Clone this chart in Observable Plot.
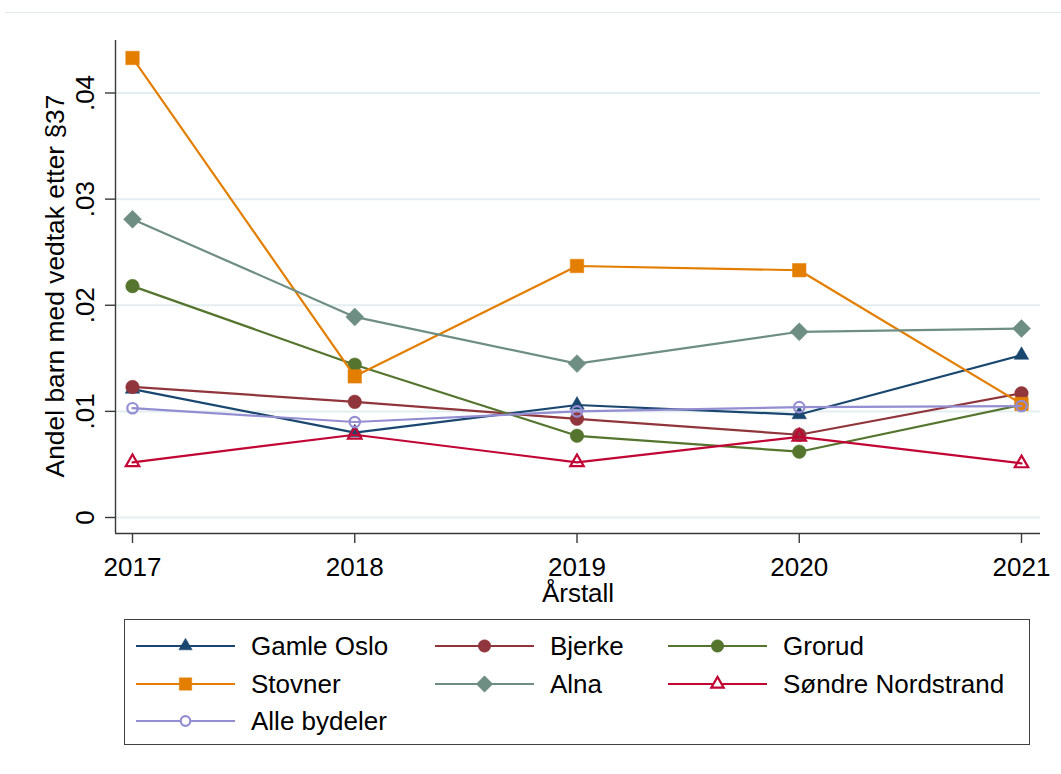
<!DOCTYPE html>
<html><head><meta charset="utf-8">
<script src="https://cdn.jsdelivr.net/npm/d3@7"></script>
<script src="https://cdn.jsdelivr.net/npm/@observablehq/plot@0.6"></script>
<style>
body{margin:0;background:#fff;font-family:"Liberation Sans",Arial,sans-serif;}
#wrap{position:relative;width:1061px;height:774px;overflow:hidden;}
#topline{position:absolute;left:5px;top:12px;width:1056px;height:0;border-top:1px solid #dfe8e8;}
#chart{position:absolute;left:0;top:0;}
#legend{position:absolute;left:124px;top:619px;width:906px;height:126px;border:1px solid #404040;box-sizing:border-box;}
.item{position:absolute;height:36px;display:flex;align-items:center;font-size:26px;color:#000;white-space:nowrap;}
.item svg{margin-right:15px;display:block;}
</style></head><body>
<div id="wrap"><div id="topline"></div><div id="chart"></div><div id="legend"></div></div>
<script>
// ---- data ----
const years = [2017, 2018, 2019, 2020, 2021];
const seriesNames = ["Gamle Oslo", "Bjerke", "Grorud", "Stovner", "Alna", "Søndre Nordstrand", "Alle bydeler"];
const gamleOslo = [0.0121, 0.0080, 0.0106, 0.0097, 0.0153];
const bjerke    = [0.0123, 0.0109, 0.0093, 0.0078, 0.0117];
const grorud    = [0.0218, 0.0144, 0.0077, 0.0062, 0.0106];
const stovner   = [0.0433, 0.0133, 0.0237, 0.0233, 0.0107];
const alna      = [0.0281, 0.0189, 0.0145, 0.0175, 0.0178];
const sondreNordstrand = [0.0052, 0.0078, 0.0052, 0.0076, 0.0051];
const alleBydeler = [0.0103, 0.0090, 0.0100, 0.0104, 0.0105];
const seriesValues = [gamleOslo, bjerke, grorud, stovner, alna, sondreNordstrand, alleBydeler];
const yTicks = [0, 0.01, 0.02, 0.03, 0.04];
const yTitle = "Andel barn med vedtak etter §37";
const xTitle = "Årstall";

// ---- styles ----
const colors = ["#1a476f", "#90353b", "#55752f", "#e37e00", "#6e8e84", "#c10534", "#938dd2"];
const symbols = ["triangle", "circle", "circle", "square", "diamond2", "triangle", "circle"];
const radii = [5.4, 6.8, 6.8, 7.6, 8.1, 5.0, 5.2];
const hollow = [false, false, false, false, false, true, true];

const table = [];
seriesNames.forEach((name, i) => {
  years.forEach((yr, j) => table.push({series: name, year: yr, value: seriesValues[i][j]}));
});

const fmtY = d => d === 0 ? "0" : d3.format(".2f")(d).replace(/^0/, "");

const seriesMarks = seriesNames.flatMap((name, i) => {
  const rows = table.filter(d => d.series === name);
  return [
    Plot.line(rows, {x: "year", y: "value", stroke: colors[i], strokeWidth: 2.2}),
    Plot.dot(rows, {
      x: "year", y: "value", symbol: () => symbols[i], r: radii[i],
      fill: hollow[i] ? "none" : colors[i],
      stroke: colors[i], strokeWidth: hollow[i] ? 2.2 : 0.5
    })
  ];
});

const chart = Plot.plot({
  width: 1061,
  height: 615,
  marginLeft: 115,
  marginRight: 21,
  marginTop: 40,
  marginBottom: 82,
  style: {fontSize: "26px", fontFamily: "'Liberation Sans', Arial, sans-serif", color: "#000", background: "transparent"},
  x: {type: "linear", domain: [2017, 2021], insetLeft: 17, insetRight: 19},
  y: {domain: [0, 0.04], insetTop: 52.5, insetBottom: 16},
  symbol: {type: "identity"},
  marks: [
    Plot.gridY(yTicks, {stroke: "#e4eef0", strokeOpacity: 1, strokeWidth: 2}),
    Plot.ruleX([2017], {dx: -17, stroke: "#3a3a3a", strokeWidth: 1.4}),
    Plot.ruleY([0], {dy: 16, stroke: "#3a3a3a", strokeWidth: 1.4}),
    Plot.axisX({ticks: years, tickSize: 10, tickPadding: 14, tickFormat: d => String(d), label: null, stroke: "#3a3a3a", strokeWidth: 1.4}),
    Plot.axisY({ticks: yTicks, tickSize: 10, tickPadding: 12, tickRotate: -90, tickFormat: fmtY, label: null, stroke: "#3a3a3a", strokeWidth: 1.4}),
    Plot.text([yTitle], {text: d => d, frameAnchor: "left", textAnchor: "middle", dx: -51.5, dy: -1, rotate: -90, lineAnchor: "bottom", fontSize: 26.4}),
    Plot.text([xTitle], {text: d => d, frameAnchor: "bottom", dy: 68, lineAnchor: "bottom", fontSize: 26}),
    ...seriesMarks
  ]
});
document.getElementById("chart").appendChild(chart);

// ---- legend ----
const legend = document.getElementById("legend");
const colX = [11, 310, 543];
const rowY = [26, 64, 101];
seriesNames.forEach((name, i) => {
  const r = Math.floor(i / 3), c = i % 3;
  const item = document.createElement("div");
  item.className = "item";
  item.style.left = colX[c] + "px";
  item.style.top = (rowY[r] - 18) + "px";
  const svg = d3.create("svg").attr("width", 100).attr("height", 36);
  svg.append("line").attr("x1", 0).attr("x2", 99).attr("y1", 18).attr("y2", 18)
    .attr("stroke", colors[i]).attr("stroke-width", 2.2);
  const symMap = {triangle: d3.symbolTriangle, circle: d3.symbolCircle, square: d3.symbolSquare, diamond2: d3.symbolDiamond2};
  const rr = radii[i] * 0.92;
  svg.append("path").attr("transform", "translate(49.5,18)")
    .attr("d", d3.symbol(symMap[symbols[i]], Math.PI * rr * rr)())
    .attr("fill", hollow[i] ? "white" : colors[i])
    .attr("stroke", colors[i]).attr("stroke-width", hollow[i] ? 2.2 : 0.5);
  item.appendChild(svg.node());
  const span = document.createElement("span");
  span.textContent = name;
  item.appendChild(span);
  legend.appendChild(item);
});
</script>
</body></html>
